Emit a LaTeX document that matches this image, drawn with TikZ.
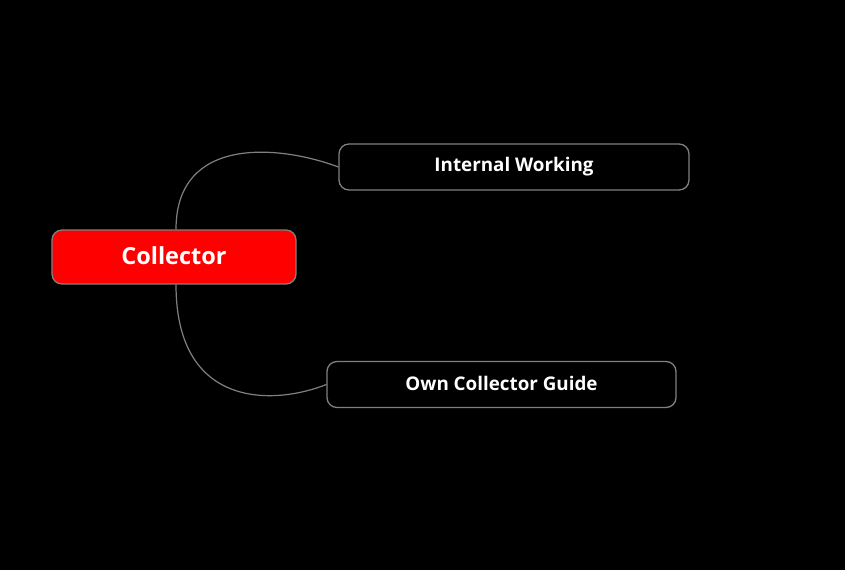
\documentclass[tikz,border=0pt]{standalone}
\usepackage{fontspec}
\setmainfont{Open Sans}
\begin{document}
\begin{tikzpicture}[x=1pt,y=-1pt,
  rootbox/.style={draw=black!50!white, line width=1.3pt, fill=red, rounded corners=10pt,
    minimum width=244pt, minimum height=54pt, inner sep=0pt, text=white,
    font=\bfseries\fontsize{23.5}{27}\selectfont},
  childbox/.style={draw=black!50!white, line width=1.3pt, fill=black, rounded corners=10pt,
    minimum height=46pt, inner sep=0pt, text=white,
    font=\bfseries\fontsize{18.8}{22}\selectfont},
  link/.style={draw=black!50!white, line width=1.2pt}]
\fill[black] (0,0) rectangle (845,570);
\useasboundingbox (0,0) rectangle (845,570);
\node[rootbox] (root) at (174,257) {\raisebox{2.5pt}{Collector}};
\node[childbox, minimum width=350pt] (iw) at (514,167) {\raisebox{0.5pt}{Internal Working}};
\node[childbox, minimum width=349pt] (ocg) at (501.5,384.5) {\raisebox{1.5pt}{Own Collector Guide}};
\coordinate (rt) at (root.north -| 176,0);
\coordinate (rb) at (root.south -| 176,0);
\draw[link] (rt) .. controls (176,135) and (280,145) .. (iw.west);
\draw[link] (rb) .. controls (176,410) and (275,405) .. (ocg.west);
\end{tikzpicture}
\end{document}
